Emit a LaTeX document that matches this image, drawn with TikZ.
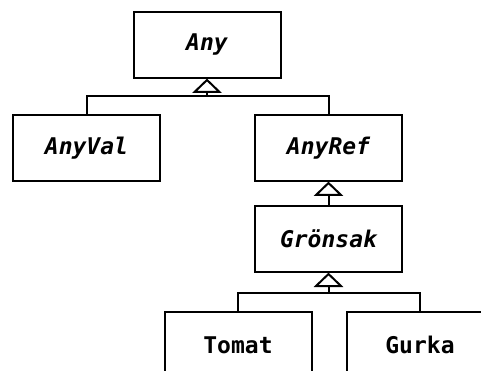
\documentclass[tikz,border=0pt]{standalone}
\usepackage{fontspec}
\setmonofont{DejaVu Sans Mono}
\begin{document}
\begin{tikzpicture}[x=1pt,y=-1pt,
  cls/.style={draw, line width=2pt, minimum width=147pt, minimum height=66pt, inner sep=0pt, fill=white,
    font=\ttfamily\bfseries\fontsize{23}{28}\selectfont},
  abstr/.style={cls, font=\ttfamily\bfseries\itshape\fontsize{23}{28}\selectfont},
  conn/.style={line width=2pt},
  gen/.style={line width=2pt, fill=white, line join=miter}]
\useasboundingbox (0,0) rectangle (481,371);
\clip (0,0) rectangle (481,371);
\node[abstr] (any) at (207,45) {Any};
\node[abstr] (anyval) at (86.5,148) {AnyVal};
\node[abstr] (anyref) at (328.5,148) {AnyRef};
\node[abstr] (gron) at (328.5,239) {Grönsak};
\node[cls] (tomat) at (238,345) {Tomat};
\node[cls] (gurka) at (420,345) {Gurka};
% generalization triangles
\coordinate (tA) at ([yshift=-13pt]any.south);
\coordinate (tR) at ([yshift=-13pt]anyref.south);
\coordinate (tG) at ([yshift=-13pt]gron.south);
\coordinate (j1) at (207,96);
\coordinate (j2) at (328.5,293);
\draw[conn] (anyval.north) |- (j1) -| (anyref.north);
\draw[conn] (j1) -- (tA);
\draw[conn] (tR) -- (gron.north);
\draw[conn] (tomat.north) |- (j2) -| (gurka.north);
\draw[conn] (j2) -- (tG);
\draw[gen] ([yshift=-1pt]any.south) -- ++(-12.5,12) -- ++(25,0) -- cycle;
\draw[gen] ([yshift=-1pt]anyref.south) -- ++(-12.5,12) -- ++(25,0) -- cycle;
\draw[gen] ([yshift=-1pt]gron.south) -- ++(-12.5,12) -- ++(25,0) -- cycle;
\end{tikzpicture}
\end{document}
